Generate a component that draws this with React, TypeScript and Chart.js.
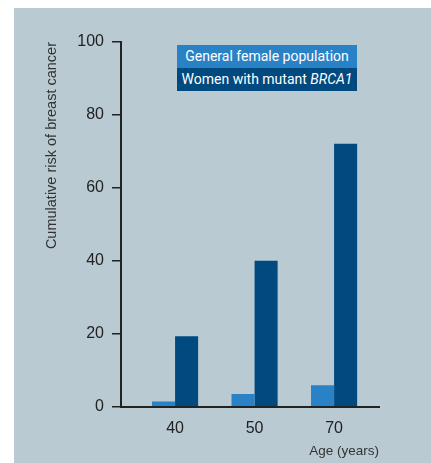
import React, { useEffect, useRef } from 'react';
import { Chart, registerables } from 'chart.js';

Chart.register(...registerables);

const categories = ['40', '50', '70'];
const generalPopulation = [1.4, 3.5, 5.9];
const brca1Carriers = [19.3, 40, 72.1];
const seriesLabels = ['General female population', 'Women with mutant BRCA1'];
const seriesColors = ['#2a82c6', '#004a80'];
const yTickValues = [0, 20, 40, 60, 80, 100];
const yTitle = 'Cumulative risk of breast cancer';
const xTitle = 'Age (years)';

const PANEL_W = 417;
const PANEL_H = 455;

function renderLabel(label: string) {
  const parts = label.split(/(BRCA1)/);
  return parts.map((p, i) =>
    p === 'BRCA1' ? (
      <i key={i}>{p}</i>
    ) : (
      <span key={i}>{p}</span>
    )
  );
}

export default function App() {
  const canvasRef = useRef<HTMLCanvasElement | null>(null);

  useEffect(() => {
    if (!canvasRef.current) return;
    const toPoints = (arr: number[]) => arr.map((y, i) => ({ x: i, y }));
    const chart = new Chart(canvasRef.current, {
      type: 'bar',
      data: {
        datasets: [
          {
            label: seriesLabels[0],
            data: toPoints(generalPopulation),
            backgroundColor: seriesColors[0],
            borderWidth: 0,
            categoryPercentage: 0.58,
            barPercentage: 1,
          },
          {
            label: seriesLabels[1],
            data: toPoints(brca1Carriers),
            backgroundColor: seriesColors[1],
            borderWidth: 0,
            categoryPercentage: 0.58,
            barPercentage: 1,
          },
        ],
      },
      options: {
        animation: false,
        responsive: false,
        devicePixelRatio: 1,
        layout: { padding: { top: 34, right: 52, left: 0, bottom: 0 } },
        plugins: { legend: { display: false }, tooltip: { enabled: false } },
        scales: {
          x: {
            type: 'linear',
            min: -0.68,
            max: 2.565,
            offset: false,
            bounds: 'data',
            grid: { display: false, drawTicks: false, offset: false },
            border: { display: true, color: '#222', width: 2 },
            afterBuildTicks: (scale: any) => {
              scale.ticks = categories.map((_, i) => ({ value: i }));
            },
            afterFit: (scale: any) => {
              scale.height = 56.3;
            },
            ticks: {
              padding: 12,
              stepSize: 1,
              includeBounds: false,
              color: '#222',
              font: { family: '"Liberation Sans", Arial, sans-serif', size: 16 },
              callback: (v: any) => categories[v as number] ?? '',
            },
            title: {
              display: true,
              text: xTitle,
              align: 'end',
              color: '#333',
              font: { family: '"Liberation Sans", Arial, sans-serif', size: 13.5 },
              padding: { top: 0, bottom: 4 },
            },
          },
          y: {
            type: 'linear',
            min: 0,
            max: 100,
            afterBuildTicks: (scale: any) => {
              scale.ticks = yTickValues.map((v) => ({ value: v }));
            },
            afterFit: (scale: any) => {
              scale.width = 107;
            },
            grid: {
              display: true,
              drawOnChartArea: false,
              drawTicks: true,
              tickLength: 9,
              color: '#222',
              lineWidth: 1.5,
            },
            border: { display: true, color: '#222', width: 2 },
            ticks: {
              padding: 8,
              color: '#222',
              font: { family: '"Liberation Sans", Arial, sans-serif', size: 16 },
            },
            title: {
              display: true,
              text: yTitle,
              align: 'end',
              color: '#333',
              font: { family: '"Liberation Sans", Arial, sans-serif', size: 14.5 },
              padding: { top: 29, bottom: 0 },
            },
          },
        },
      } as any,
    });
    return () => chart.destroy();
  }, []);

  return (
    <div
      style={{
        position: 'absolute',
        left: 0,
        top: 0,
        width: 431,
        height: 463,
        background: '#ffffff',
      }}
    >
      <div
        style={{
          position: 'absolute',
          left: 14,
          top: 8,
          width: PANEL_W,
          height: PANEL_H,
          background: '#b9cad3',
        }}
      >
        <canvas
          ref={canvasRef}
          width={PANEL_W}
          height={PANEL_H}
          style={{ position: 'absolute', left: 0, top: 0, width: PANEL_W, height: PANEL_H }}
        />
        <div
          style={{
            position: 'absolute',
            left: 163,
            top: 37,
            width: 180,
            fontFamily: 'Roboto, "Liberation Sans", sans-serif',
            fontSize: 14,
            color: '#ffffff',
          }}
        >
          {seriesLabels.map((label, i) => (
            <div
              key={label}
              style={{
                background: seriesColors[i],
                height: 23,
                lineHeight: '23px',
                textAlign: 'center',
                whiteSpace: 'nowrap',
              }}
            >
              {renderLabel(label)}
            </div>
          ))}
        </div>
      </div>
    </div>
  );
}
